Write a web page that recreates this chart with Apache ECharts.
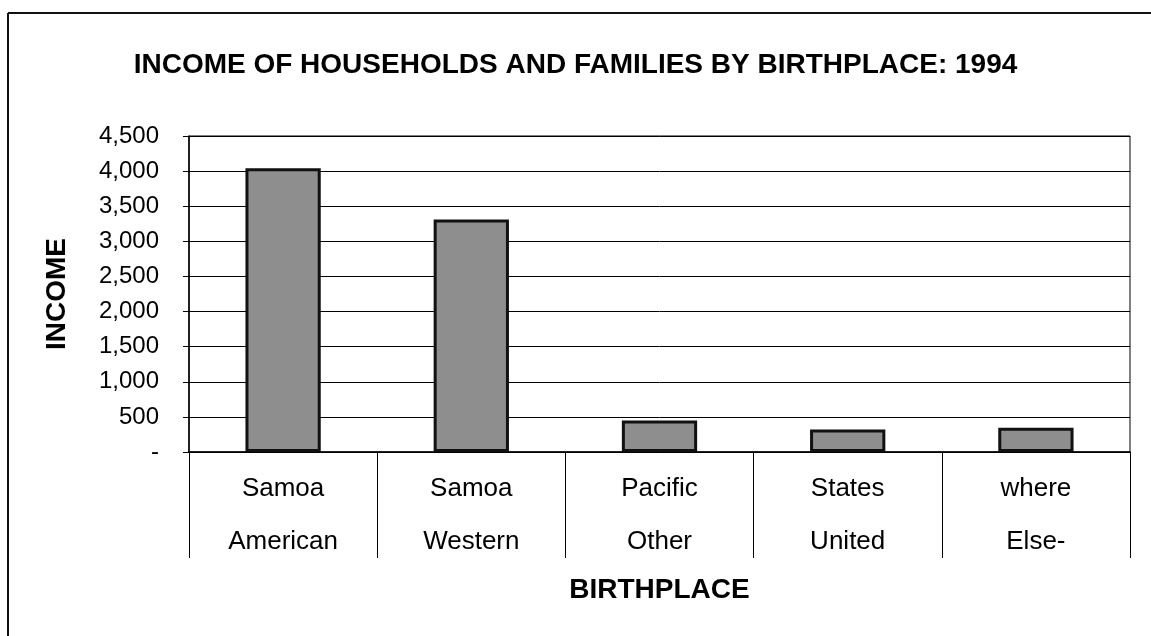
<!DOCTYPE html>
<html>
<head>
<meta charset="utf-8">
<script src="https://cdn.jsdelivr.net/npm/echarts@6/dist/echarts.min.js"></script>
<style>
html,body{margin:0;padding:0;background:#fff;}
#chart{width:1151px;height:636px;}
</style>
</head>
<body>
<div id="chart"></div>
<script>
const categories = ["Samoa\nAmerican", "Samoa\nWestern", "Pacific\nOther", "States\nUnited", "where\nElse-"];
const incomeValues = [4040, 3310, 450, 320, 345];
const yTicks = { min: 0, max: 4500, interval: 500 };
const titleText = "INCOME OF HOUSEHOLDS AND FAMILIES BY BIRTHPLACE: 1994";
const xName = "BIRTHPLACE";
const yName = "INCOME";

const FONT = "'Liberation Sans', Arial, sans-serif";
const chart = echarts.init(document.getElementById('chart'), null, {renderer: 'canvas'});
chart.setOption({
  backgroundColor: '#fff',
  animation: false,
  title: {
    text: titleText,
    left: 'center',
    top: 46,
    textStyle: {fontFamily: FONT, fontSize: 28, fontWeight: 'bold', color: '#000'}
  },
  grid: {
    left: 189, right: 21, top: 136, bottom: 184,
    show: true, borderColor: '#000', borderWidth: 1
  },
  xAxis: {
    type: 'category',
    data: categories,
    name: xName,
    nameLocation: 'middle',
    nameGap: 124,
    nameTextStyle: {fontFamily: FONT, fontSize: 28, fontWeight: 'bold', color: '#000'},
    axisLine: {lineStyle: {color: '#000', width: 1.5}},
    axisTick: {show: true, interval: 0, length: 106, lineStyle: {color: '#000', width: 1}},
    axisLabel: {
      interval: 0, margin: 10,
      fontFamily: FONT, fontSize: 26, color: '#000', lineHeight: 53
    }
  },
  yAxis: {
    type: 'value',
    min: yTicks.min, max: yTicks.max, interval: yTicks.interval,
    name: yName,
    nameLocation: 'middle',
    nameGap: 118,
    nameRotate: 90,
    nameTextStyle: {fontFamily: FONT, fontSize: 28, fontWeight: 'bold', color: '#000'},
    axisLine: {show: true, lineStyle: {color: '#000', width: 1.5}},
    axisTick: {show: true, length: 6, lineStyle: {color: '#000'}},
    splitLine: {show: true, lineStyle: {color: '#000', width: 1}},
    axisLabel: {
      margin: 30,
      fontFamily: FONT, fontSize: 24, color: '#000',
      formatter: function (v) { return v === 0 ? '-' : v.toLocaleString('en-US'); }
    }
  },
  series: [{
    type: 'bar',
    data: incomeValues,
    barWidth: '40%',
    itemStyle: {color: '#8e8e8e', borderColor: '#111', borderWidth: 3}
  }],
  graphic: [
    {type: 'line', shape: {x1: 8, y1: 13, x2: 1151, y2: 13}, style: {stroke: '#111', lineWidth: 2}},
    {type: 'line', shape: {x1: 8, y1: 13, x2: 8, y2: 636}, style: {stroke: '#111', lineWidth: 2}}
  ]
});
</script>
</body>
</html>
